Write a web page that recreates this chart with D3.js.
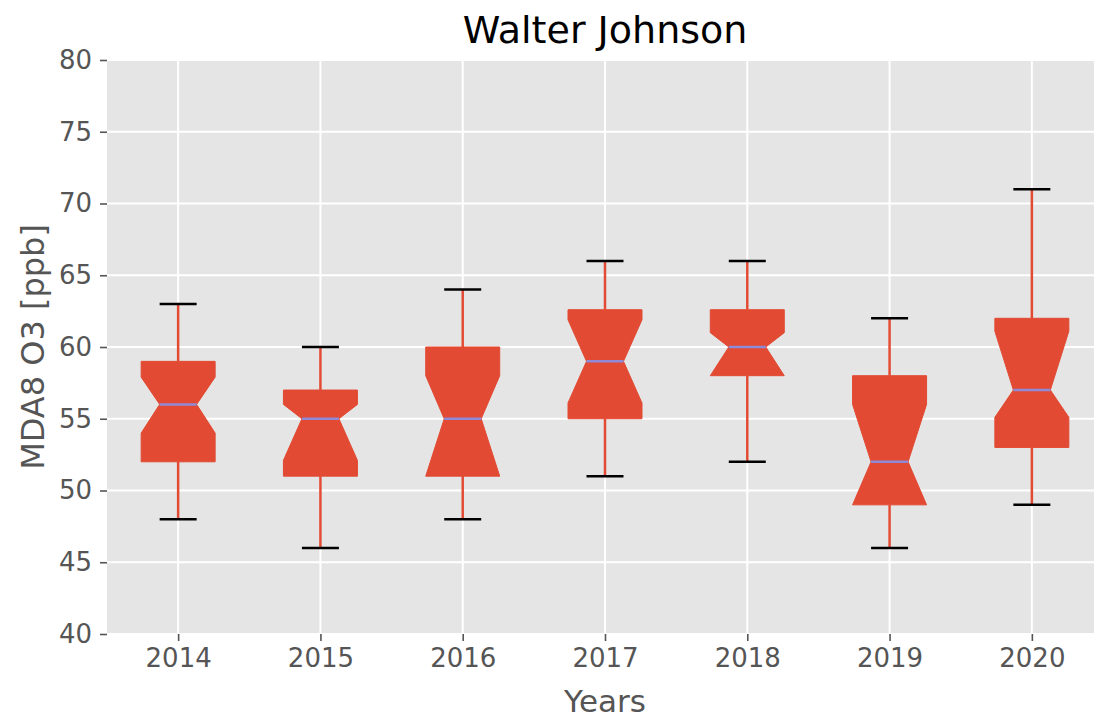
<!DOCTYPE html>
<meta charset="utf-8">
<head>
<style>
  body { margin: 0; background: #fff; }
  text { font-family: "DejaVu Sans", sans-serif; }
</style>
</head>
<script src="https://d3js.org/d3.v7.min.js"></script>
<body>
<div id="chart"></div>
</body>
<script>

    // values (ppb)
    var years = ["2014", "2015", "2016", "2017", "2018", "2019", "2020"];
    var whiskerLow  = [48, 46, 48, 51, 52, 46, 49];
    var q1          = [52, 51, 51, 55, 58, 49, 53];
    var medians     = [56, 55, 55, 59, 60, 52, 57];
    var q3          = [59, 57, 60, 62.6, 62.6, 58, 62];
    var whiskerHigh = [63, 60, 64, 66, 66, 62, 71];
    var notchLow    = [54, 52.1, 51, 56.1, 58, 49, 55.1];
    var notchHigh   = [57.9, 56, 58, 61.9, 61, 56, 61.1];
    var yTicks = [40, 45, 50, 55, 60, 65, 70, 75, 80];

    var W = 1094, H = 719;
    var margin = {top: 60, right: -9, bottom: 85, left: 107};
    var width = W - margin.left - margin.right,
        height = H - margin.top - margin.bottom;

    var svg = d3.select("#chart")
      .append("svg")
        .attr("width", W)
        .attr("height", H)
        .style("display", "block");

    // plot background
    svg.append("rect")
      .attr("x", margin.left).attr("y", margin.top)
      .attr("width", width).attr("height", height)
      .style("fill", "#e5e5e5");

    var g = svg.append("g")
      .attr("transform", "translate(" + margin.left + "," + margin.top + ")");

    var x = d3.scalePoint()
      .domain(years)
      .range([0, width])
      .padding(0.5);

    var y = d3.scaleLinear()
      .domain([40, 80])
      .range([height, 0]);

    // grid
    g.append("g").selectAll("line").data(yTicks).enter().append("line")
      .attr("x1", 0).attr("x2", width)
      .attr("y1", function(d) { return y(d); })
      .attr("y2", function(d) { return y(d); })
      .style("stroke", "#fff").style("stroke-width", 2);
    g.append("g").selectAll("line").data(years).enter().append("line")
      .attr("x1", function(d) { return x(d); })
      .attr("x2", function(d) { return x(d); })
      .attr("y1", 0).attr("y2", height)
      .style("stroke", "#fff").style("stroke-width", 2);

    // axes
    var yAxis = g.append("g")
      .call(d3.axisLeft(y).tickValues(yTicks).tickSize(7).tickPadding(8));
    var xAxis = g.append("g")
      .attr("transform", "translate(0," + height + ")")
      .call(d3.axisBottom(x).tickSize(7).tickPadding(8));

    [yAxis, xAxis].forEach(function(a) {
      a.select(".domain").remove();
      a.selectAll("line").style("stroke", "#555").style("stroke-width", 1.6);
      a.selectAll("text")
        .style("font-family", "DejaVu Sans")
        .style("font-size", "26px")
        .style("fill", "#555");
    });

    // boxes
    var step = x.step();
    var half = step * 0.26;
    var capHalf = half / 2;

    var boxes = g.append("g").selectAll("g")
      .data(years)
      .enter().append("g");

    // whiskers
    boxes.append("line")
      .attr("x1", function(d) { return x(d); })
      .attr("x2", function(d) { return x(d); })
      .attr("y1", function(d, i) { return y(q3[i]); })
      .attr("y2", function(d, i) { return y(whiskerHigh[i]); })
      .style("stroke", "#E24A33").style("stroke-width", 2.5);
    boxes.append("line")
      .attr("x1", function(d) { return x(d); })
      .attr("x2", function(d) { return x(d); })
      .attr("y1", function(d, i) { return y(q1[i]); })
      .attr("y2", function(d, i) { return y(whiskerLow[i]); })
      .style("stroke", "#E24A33").style("stroke-width", 2.5);

    // caps
    [whiskerHigh, whiskerLow].forEach(function(arr) {
      boxes.append("line")
        .attr("x1", function(d) { return x(d) - capHalf; })
        .attr("x2", function(d) { return x(d) + capHalf; })
        .attr("y1", function(d, i) { return y(arr[i]); })
        .attr("y2", function(d, i) { return y(arr[i]); })
        .style("stroke", "#000").style("stroke-width", 2.5);
    });

    // notched box body
    boxes.append("path")
      .attr("d", function(d, i) {
        var cx = x(d);
        var l = cx - half, r = cx + half;
        var pts = [
          [l, y(q1[i])], [r, y(q1[i])], [r, y(notchLow[i])],
          [cx + capHalf, y(medians[i])], [r, y(notchHigh[i])], [r, y(q3[i])],
          [l, y(q3[i])], [l, y(notchHigh[i])], [cx - capHalf, y(medians[i])],
          [l, y(notchLow[i])]
        ];
        return d3.line()(pts) + "Z";
      })
      .style("fill", "#E24A33")
      .style("stroke", "#E24A33")
      .style("stroke-width", 1);

    // medians
    boxes.append("line")
      .attr("x1", function(d) { return x(d) - capHalf; })
      .attr("x2", function(d) { return x(d) + capHalf; })
      .attr("y1", function(d, i) { return y(medians[i]); })
      .attr("y2", function(d, i) { return y(medians[i]); })
      .style("stroke", "#8e8ad8").style("stroke-width", 2.5);

    // labels
    svg.append("text")
      .attr("x", margin.left + width / 2)
      .attr("y", 43)
      .style("text-anchor", "middle")
      .style("font-size", "38px")
      .style("fill", "#000")
      .text("Walter Johnson");

    svg.append("text")
      .attr("x", margin.left + width / 2)
      .attr("y", 712)
      .style("text-anchor", "middle")
      .style("font-size", "31px")
      .style("fill", "#555")
      .text("Years");

    svg.append("text")
      .attr("transform", "translate(44," + (margin.top + height / 2) + ") rotate(-90)")
      .style("text-anchor", "middle")
      .style("font-size", "32px")
      .style("fill", "#555")
      .text("MDA8 O3 [ppb]");

</script>
